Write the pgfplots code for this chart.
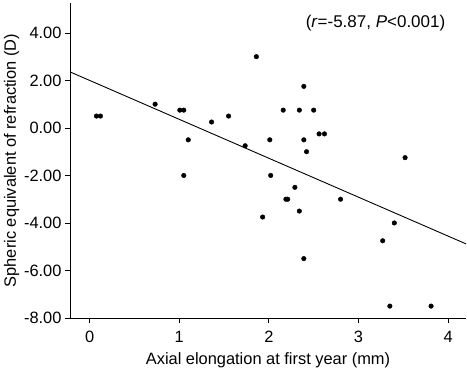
\documentclass[border=0pt]{standalone}
\usepackage{pgfplots}
\pgfplotsset{compat=1.18}
\usepackage{fontspec}
\setmainfont{Liberation Sans}
\begin{document}
\begin{tikzpicture}
\begin{axis}[
  scale only axis,
  width=396pt, height=315pt,
  xmin=-0.22, xmax=4.2,
  ymin=-8, ymax=5.26,
  axis x line*=bottom, axis y line*=left,
  axis line style={line width=0.8pt},
  tick align=outside,
  major tick length=5pt,
  tick style={line width=0.8pt, black},
  xtick={0,1,2,3,4},
  ytick={-8,-6,-4,-2,0,2,4},
  yticklabel style={/pgf/number format/.cd,fixed,fixed zerofill,precision=2},
  xticklabel style={yshift=-5pt},
  /pgf/number format/assume math mode=true,
  ticklabel style={font=\fontsize{16.4}{18}\selectfont},
  label style={font=\fontsize{16.4}{18}\selectfont},
  xlabel={Axial elongation at first year (mm)},
  ylabel={Spheric equivalent of refraction (D)},
  xlabel style={yshift=-3pt},
  ylabel style={yshift=-2pt},
  clip=false,
]
\addplot[only marks, mark=*, mark size=2.3pt, black] coordinates {
(0.075,0.5) (0.12,0.5) (0.73,1.0) (1.006,0.75) (1.05,0.75) (1.10,-0.5)
(1.05,-2.0) (1.36,0.25) (1.55,0.5) (1.735,-0.75) (1.86,3.0) (2.01,-0.5)
(2.02,-2.0) (2.16,0.75) (2.34,0.75) (2.39,1.75) (2.50,0.75) (2.39,-0.5)
(2.42,-1.0) (2.56,-0.25) (2.62,-0.25) (3.52,-1.25) (2.29,-2.5) (2.19,-3.0)
(2.21,-3.0) (2.80,-3.0) (2.34,-3.5) (1.93,-3.75) (3.40,-4.0) (3.27,-4.75)
(2.39,-5.5) (3.35,-7.5) (3.81,-7.5)
};
\addplot[black, line width=0.9pt] coordinates {(-0.22,2.36) (4.2,-4.88)};
\node[font=\fontsize{17}{19}\selectfont] at (axis cs:3.19,4.42) {(\textit{r}=-5.87, \textit{P}<0.001)};
\end{axis}
\pgfresetboundingbox
\useasboundingbox ([shift={(-70pt,-50pt)}]current axis.south west) rectangle ([shift={(1pt,3pt)}]current axis.north east);
\end{tikzpicture}
\end{document}
